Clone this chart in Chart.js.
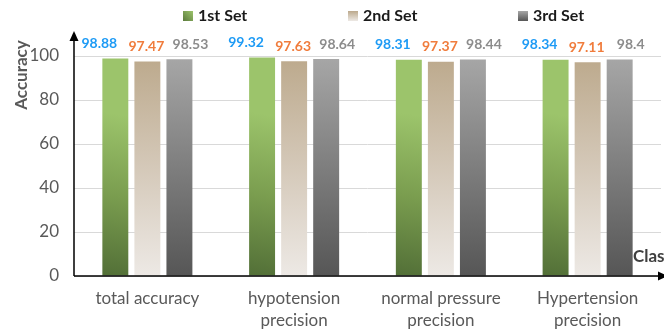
<!DOCTYPE html>
<html>
<head>
<meta charset="utf-8">
<script src="https://cdn.jsdelivr.net/npm/chart.js@4"></script>
<style>
  html, body { margin: 0; padding: 0; background: #fff; }
  #wrap { width: 664px; height: 331px; }
</style>
</head>
<body>
<div id="wrap"><canvas id="accChart" width="664" height="331"></canvas></div>
<script>
const categories = [
    ['total accuracy'],
    ['hypotension', 'precision'],
    ['normal pressure', 'precision'],
    ['Hypertension', 'precision']
];
const seriesNames = ['1st Set', '2nd Set', '3rd Set'];
const set1 = [98.88, 99.32, 98.31, 98.34];
const set2 = [97.47, 97.63, 97.37, 97.11];
const set3 = [98.53, 98.64, 98.44, 98.4];
const yMin = 0;
const yMax = 100;
const yStep = 20;

const FONT = 'Lato, "Open Sans", sans-serif';
const labelColors = ['#1e9bf5', '#f07c3c', '#8c8c8c'];

// bar fills, resolved per bar
function barFill(ctx) {
    const chart = ctx.chart;
    const area = chart.chartArea;
    const ds = ctx.datasetIndex;
    if (!area) return ['#86a95a', '#d3c6b4', '#888'][ds];
    const c = chart.ctx;
    if (ds === 0) {
        const xs = chart.scales.x;
        const cx = xs.getPixelForValue(ctx.dataIndex) - 32;
        const g = c.createLinearGradient(cx - 13, area.bottom, cx + 13, area.top + 60);
        g.addColorStop(0, '#526f37');
        g.addColorStop(0.5, '#7a9d4f');
        g.addColorStop(1, '#9cc46b');
        return g;
    }
    const g = c.createLinearGradient(0, area.top, 0, area.bottom);
    if (ds === 1) {
        g.addColorStop(0, '#bca98c');
        g.addColorStop(0.5, '#d4c8b8');
        g.addColorStop(1, '#ede9e5');
    } else {
        g.addColorStop(0, '#a7a7a7');
        g.addColorStop(1, '#565656');
    }
    return g;
}

const decorPlugin = {
    id: 'decor',
    afterDraw(chart) {
        const c = chart.ctx;
        const area = chart.chartArea;
        c.save();

        // axes with arrows
        c.strokeStyle = '#000';
        c.fillStyle = '#000';
        c.lineWidth = 1.5;
        c.beginPath();
        c.moveTo(area.left, area.bottom);
        c.lineTo(area.left, 38);
        c.moveTo(area.left, area.bottom);
        c.lineTo(660, area.bottom);
        c.stroke();
        c.beginPath();
        c.moveTo(area.left, 31);
        c.lineTo(area.left - 4.5, 41);
        c.lineTo(area.left + 4.5, 41);
        c.closePath();
        c.fill();
        c.beginPath();
        c.moveTo(668, area.bottom);
        c.lineTo(658, area.bottom - 4.5);
        c.lineTo(658, area.bottom + 4.5);
        c.closePath();
        c.fill();

        // value labels
        const offsets = [-16, -1, 11];
        c.font = 'bold 14px ' + FONT;
        c.textAlign = 'center';
        c.textBaseline = 'middle';
        chart.data.datasets.forEach((ds, i) => {
            const meta = chart.getDatasetMeta(i);
            meta.data.forEach((bar, j) => {
                c.fillStyle = labelColors[i];
                c.fillText(String(ds.data[j]), bar.x + offsets[i], bar.y - 15);
            });
        });

        // legend
        const legendX = [183, 348, 518];
        c.font = 'bold 16px ' + FONT;
        c.textAlign = 'left';
        seriesNames.forEach((name, i) => {
            const x = legendX[i];
            let g = c.createLinearGradient(x, 21, x + 10, 11);
            if (i === 0) { g.addColorStop(0, '#5b7a3d'); g.addColorStop(1, '#9cc46b'); }
            else if (i === 1) { g = c.createLinearGradient(0, 11, 0, 21); g.addColorStop(0, '#bca98c'); g.addColorStop(1, '#ede9e5'); }
            else { g = c.createLinearGradient(0, 11, 0, 21); g.addColorStop(0, '#a7a7a7'); g.addColorStop(1, '#565656'); }
            c.fillStyle = g;
            c.fillRect(x, 11, 10, 10);
            c.fillStyle = '#1a1a1a';
            c.fillText(name, x + 15, 16);
        });

        // axis titles
        c.fillStyle = '#404040';
        c.font = 'bold 17px ' + FONT;
        c.fillText('Class', 633, 257);
        c.translate(22, 75);
        c.rotate(-Math.PI / 2);
        c.textAlign = 'center';
        c.fillStyle = '#595959';
        c.fillText('Accuracy', 0, 0);
        c.restore();
    }
};

new Chart(document.getElementById('accChart').getContext('2d'), {
    type: 'bar',
    data: {
        labels: categories,
        datasets: [
            { label: seriesNames[0], data: set1, backgroundColor: barFill },
            { label: seriesNames[1], data: set2, backgroundColor: barFill },
            { label: seriesNames[2], data: set3, backgroundColor: barFill }
        ]
    },
    options: {
        responsive: false,
        animation: false,
        devicePixelRatio: 1,
        layout: { padding: { top: 56, right: 3, left: 0, bottom: 0 } },
        datasets: {
            bar: {
                categoryPercentage: 0.655,
                barPercentage: 0.81,
                borderWidth: 0
            }
        },
        plugins: {
            legend: { display: false },
            tooltip: { enabled: false }
        },
        scales: {
            x: {
                grid: { display: false },
                border: { display: false },
                ticks: {
                    color: '#595959',
                    font: { family: FONT, size: 17, lineHeight: 1.3 },
                    padding: 3,
                    maxRotation: 0,
                    autoSkip: false
                },
                afterFit(scale) { scale.height = 55; }
            },
            y: {
                min: yMin,
                max: yMax,
                grid: { color: '#d9d9d9', drawTicks: false },
                border: { display: false },
                ticks: {
                    stepSize: yStep,
                    color: '#595959',
                    font: { family: FONT, size: 17 },
                    padding: 15
                },
                afterFit(scale) { scale.width = 74; }
            }
        }
    },
    plugins: [decorPlugin]
});
</script>
</body>
</html>
